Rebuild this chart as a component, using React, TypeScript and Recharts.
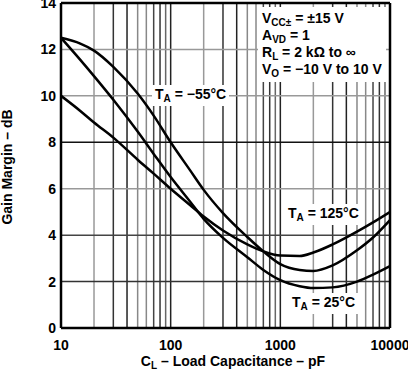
import { LineChart, Line, XAxis, YAxis, ReferenceLine } from 'recharts'

// load capacitance in pF (log axis)
const capacitance = [10, 15, 20, 30, 50, 70, 100, 150, 200, 300, 500, 700, 1000, 1500, 2000, 3000, 5000, 7000, 10000]
const gainMinus55 = [12.5, 12.25, 11.95, 11.25, 10.1, 9.15, 8.0, 6.8, 5.95, 4.95, 3.92, 3.3, 2.75, 2.5, 2.46, 2.7, 3.35, 3.9, 4.65]
const gain25 = [12.5, 11.55, 10.85, 9.83, 8.46, 7.5, 6.5, 5.45, 4.7, 3.88, 3.05, 2.5, 2.06, 1.8, 1.72, 1.75, 2.0, 2.3, 2.67]
const gain125 = [10.0, 9.35, 8.85, 8.2, 7.25, 6.65, 6.0, 5.3, 4.8, 4.2, 3.6, 3.3, 3.12, 3.1, 3.25, 3.6, 4.15, 4.55, 5.0]

const xTicks = [10, 100, 1000, 10000]
const yTicks = [0, 2, 4, 6, 8, 10, 12, 14]
const minorX = [20, 30, 40, 50, 60, 70, 80, 90, 200, 300, 400, 500, 600, 700, 800, 900, 2000, 3000, 4000, 5000, 6000, 7000, 8000, 9000]
const gridY = [2, 4, 6, 8, 10, 12]

const data = capacitance.map((c, i) => ({ c, m55: gainMinus55[i], t25: gain25[i], t125: gain125[i] }))

const minorColor: Record<number, string> = { 2: '#999', 3: '#333', 4: '#222', 5: '#888', 6: '#888', 7: '#444', 8: '#333', 9: '#666' }
const hColor: Record<number, string> = { 2: '#333', 4: '#444', 6: '#999', 8: '#111', 10: '#999', 12: '#999' }

const font = '"Liberation Sans", Arial, sans-serif'
const tickStyle = { fill: '#000', fontSize: 14, fontWeight: 700, fontFamily: font }
const box: React.CSSProperties = {
  position: 'absolute', background: '#fff', fontFamily: font, fontWeight: 700, fontSize: 14,
  color: '#000', whiteSpace: 'nowrap', lineHeight: '17px',
}
const sub: React.CSSProperties = { fontSize: 10, verticalAlign: -3, lineHeight: 0 }

function Ta({ t }: { t: string }) {
  return <span>T<span style={sub}>A</span> = {t}</span>
}

export default function App() {
  return (
    <div style={{ position: 'absolute', left: 0, top: 0, width: 408, height: 372, background: '#fff' }}>
      <LineChart width={408} height={372} data={data} margin={{ top: 3, right: 18, left: 0, bottom: 0 }}>
        <XAxis dataKey="c" type="number" scale="log" domain={[10, 10000]} ticks={xTicks}
          allowDataOverflow axisLine={false} tickLine={false} tickSize={0} tickMargin={12}
          height={44} tick={tickStyle} interval={0} />
        <YAxis type="number" domain={[0, 14]} ticks={yTicks} axisLine={false} tickLine={false}
          tickSize={0} tickMargin={5} width={61} tick={tickStyle} interval={0} />
        {minorX.map(v => (
          <ReferenceLine key={'x' + v} x={v} stroke={minorColor[Math.round(v / Math.pow(10, Math.floor(Math.log10(v))))]} strokeWidth={1.5} />
        ))}
        {[100, 1000].map(v => <ReferenceLine key={'d' + v} x={v} stroke="#222" strokeWidth={1.5} />)}
        {gridY.map(v => <ReferenceLine key={'y' + v} y={v} stroke={hColor[v]} strokeWidth={1.5} />)}
        <ReferenceLine x={10} stroke="#000" strokeWidth={2.5} />
        <ReferenceLine x={10000} stroke="#000" strokeWidth={2.5} />
        <ReferenceLine y={0} stroke="#000" strokeWidth={2.5} />
        <ReferenceLine y={14} stroke="#000" strokeWidth={2.5} />
        <Line dataKey="m55" type="monotone" stroke="#000" strokeWidth={2.5} dot={false} isAnimationActive={false} />
        <Line dataKey="t25" type="monotone" stroke="#000" strokeWidth={2.5} dot={false} isAnimationActive={false} />
        <Line dataKey="t125" type="monotone" stroke="#000" strokeWidth={2.5} dot={false} isAnimationActive={false} />
      </LineChart>

      <div style={{ ...box, left: 258, top: 7, width: 124, padding: '3px 0 4px 4px' }}>
        <div>V<span style={sub}>CC±</span> = ±15 V</div>
        <div>A<span style={sub}>VD</span> = 1</div>
        <div>R<span style={sub}>L</span> = 2 kΩ to ∞</div>
        <div>V<span style={sub}>O</span> = −10 V to 10 V</div>
      </div>
      <div style={{ ...box, left: 152, top: 85, padding: '1px 3px 3px 3px' }}><Ta t="−55°C" /></div>
      <div style={{ ...box, left: 285, top: 204, padding: '1px 3px 3px 3px' }}><Ta t="125°C" /></div>
      <div style={{ ...box, left: 289, top: 293, padding: '1px 3px 3px 3px' }}><Ta t="25°C" /></div>

      <div style={{ ...box, background: 'transparent', left: 7, top: 167, transform: 'translate(-50%, -50%) rotate(-90deg)' }}>
        Gain Margin – dB
      </div>
      <div style={{ ...box, background: 'transparent', left: 233, top: 353, transform: 'translateX(-50%)' }}>
        C<span style={sub}>L</span> – Load Capacitance – pF
      </div>
    </div>
  )
}
